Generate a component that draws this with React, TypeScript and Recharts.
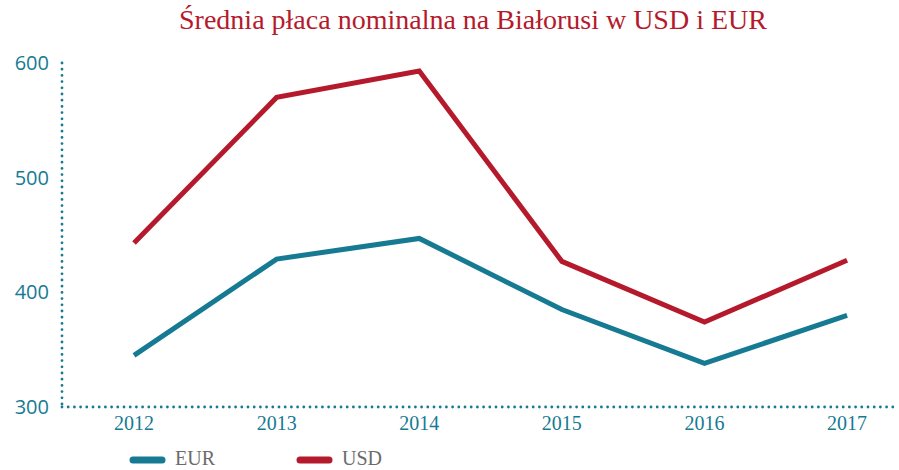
import React from "react";
import { LineChart, Line, XAxis, YAxis } from "recharts";

const years = [2012, 2013, 2014, 2015, 2016, 2017];
const usd = [443, 570, 593, 427, 374, 428];
const eur = [345, 429, 447, 385, 338, 380];
const yTicks = [300, 400, 500, 600];

const TEAL = "#167a93";
const RED = "#b51a2c";

const data = years.map((year, i) => ({ year, EUR: eur[i], USD: usd[i] }));

const dotted = {
  stroke: TEAL,
  strokeWidth: 2.8,
  strokeDasharray: "0 6.2",
  strokeLinecap: "round" as const,
};

const legendItems = [
  { name: "EUR", color: TEAL, x: 133 },
  { name: "USD", color: RED, x: 300 },
];

export default function App() {
  return (
    <div style={{ position: "absolute", left: 0, top: 0, width: 899, height: 470, background: "#fff", overflow: "hidden" }}>
      <div
        style={{
          position: "absolute",
          top: 4,
          left: 0,
          width: 946,
          textAlign: "center",
          color: RED,
          fontFamily: "'Liberation Serif', serif",
          fontSize: 28,
        }}
      >
        Średnia płaca nominalna na Białorusi w USD i EUR
      </div>
      <LineChart width={899} height={470} data={data} margin={{ top: 63, right: 2, left: 0, bottom: 33 }}>
        <XAxis
          dataKey="year"
          type="number"
          domain={[2011.495, 2017.35]}
          ticks={years}
          axisLine={dotted}
          tickLine={false}
          height={30}
          tickMargin={3}
          tick={{ fill: TEAL, fontSize: 20, fontFamily: "'Liberation Serif', serif" }}
        />
        <YAxis
          domain={[300, 600]}
          ticks={yTicks}
          width={62}
          axisLine={dotted}
          tickLine={false}
          tickMargin={7}
          tick={{ fill: TEAL, fontSize: 20, fontFamily: "'Open Sans', sans-serif" }}
        />
        <Line dataKey="EUR" stroke={TEAL} strokeWidth={5} dot={false} isAnimationActive={false} />
        <Line dataKey="USD" stroke={RED} strokeWidth={5} dot={false} isAnimationActive={false} />
      </LineChart>
      <svg width={899} height={30} style={{ position: "absolute", left: 0, top: 440 }}>
        {legendItems.map((it) => (
          <g key={it.name}>
            <line x1={it.x} x2={it.x + 29} y1={20} y2={20} stroke={it.color} strokeWidth={7} strokeLinecap="round" />
            <text x={it.x + 42} y={25} fill="#6b6b6b" fontSize={20} fontFamily="'Liberation Serif', serif">
              {it.name}
            </text>
          </g>
        ))}
      </svg>
    </div>
  );
}
